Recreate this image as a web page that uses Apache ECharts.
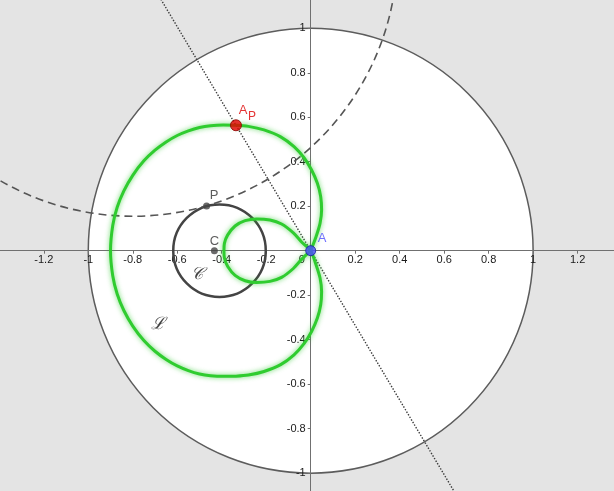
<!DOCTYPE html>
<html>
<head>
<meta charset="utf-8">
<script src="https://cdn.jsdelivr.net/npm/echarts@6/dist/echarts.min.js"></script>
<style>
  html, body { margin: 0; padding: 0; background: #e4e4e4; }
  #main { width: 614px; height: 491px; }
</style>
</head>
<body>
<div id="main"></div>
<script>
// tick labels shown on the axes
const xTicks = [-1.2, -1, -0.8, -0.6, -0.4, -0.2, 0, 0.2, 0.4, 0.6, 0.8, 1, 1.2];
const yTicks = [-1, -0.8, -0.6, -0.4, -0.2, 0.2, 0.4, 0.6, 0.8, 1];

// circles: [centerX, centerY, radius]
const unitCircle = [0, 0, 1];
const circleC = [-0.41, 0, 0.208];
const geodesic = [-0.80, 1.345, 1.19];

// points
const pointA = [0, 0];
const pointAP = [-0.336, 0.564];
const pointP = [-0.468, 0.201];
const pointC = [-0.433, 0];

// dotted line through A and A_P
const lineX = [-0.715, 0.715];
const lineY = [1.2, -1.2];

// locus L: outer loop (from A, counter-clockwise), then inner loop
const locusX = [
  0, 0.024, 0.042, 0.049, 0.045, 0.030, 0.004, -0.030, -0.075, -0.135, -0.210, -0.280, -0.336,
  -0.393, -0.45, -0.50, -0.55, -0.60, -0.65, -0.70, -0.75, -0.80, -0.84, -0.87, -0.89, -0.90,
  -0.89, -0.87, -0.84, -0.80, -0.75, -0.70, -0.65, -0.60, -0.55, -0.50, -0.45, -0.393,
  -0.336, -0.280, -0.210, -0.135, -0.075, -0.030, 0.004, 0.030, 0.045, 0.049, 0.042, 0.024, 0,
  -0.040, -0.078, -0.131, -0.183, -0.243, -0.295, -0.340, -0.373, -0.388, -0.390,
  -0.388, -0.373, -0.340, -0.295, -0.243, -0.183, -0.131, -0.078, -0.040, 0
];
const locusY = [
  0, 0.063, 0.123, 0.183, 0.243, 0.303, 0.363, 0.418, 0.468, 0.512, 0.543, 0.559, 0.564,
  0.565, 0.562, 0.554, 0.539, 0.518, 0.489, 0.452, 0.404, 0.339, 0.269, 0.195, 0.113, 0,
  -0.113, -0.195, -0.269, -0.339, -0.404, -0.452, -0.489, -0.518, -0.539, -0.554, -0.562, -0.565,
  -0.564, -0.559, -0.543, -0.512, -0.468, -0.418, -0.363, -0.303, -0.243, -0.183, -0.123, -0.063, 0,
  0.038, 0.080, 0.120, 0.138, 0.143, 0.135, 0.111, 0.071, 0.033, 0,
  -0.033, -0.071, -0.111, -0.135, -0.143, -0.138, -0.120, -0.080, -0.038, 0
];

// text annotations
const annotations = [
  { name: '𝒞', value: [-0.511, -0.109] },
  { name: 'ℒ', value: [-0.685, -0.334] }
];

const font = "'Liberation Sans', Arial, sans-serif";

function hasTick(list, v) {
  return list.some(t => Math.abs(t - v) < 1e-6);
}

function circleRender(style) {
  return function (params, api) {
    const c = api.coord([api.value(0), api.value(1)]);
    const s = api.size([api.value(2), api.value(2)]);
    return { type: 'circle', shape: { cx: c[0], cy: c[1], r: s[0] }, style: style };
  };
}

const chart = echarts.init(document.getElementById('main'));

const option = {
  backgroundColor: '#e4e4e4',
  animation: false,
  grid: {
    left: -0.7, top: -16.2, width: 622.8, height: 533.8,
    containLabel: false, outerBoundsMode: 'none'
  },
  xAxis: {
    type: 'value', min: -1.4, max: 1.4, interval: 0.2,
    position: 'bottom', offset: -266.9,
    axisLine: { onZero: false, lineStyle: { color: '#707070', width: 1 } },
    axisTick: { show: true, length: 3, lineStyle: { color: '#707070' } },
    splitLine: { show: false },
    axisLabel: {
      margin: 4, color: '#1a1a1a', fontSize: 11, fontFamily: font,
      formatter: function (v) {
        if (Math.abs(v) < 1e-9) return '{z|0}';
        return hasTick(xTicks, v) ? String(+v.toFixed(1)) : '';
      },
      rich: { z: { padding: [0, 18, 0, 0], fontSize: 11, color: '#1a1a1a', fontFamily: font } }
    }
  },
  yAxis: {
    type: 'value', min: -1.2, max: 1.2, interval: 0.2,
    position: 'left', offset: -311.4,
    axisLine: { onZero: false, lineStyle: { color: '#707070', width: 1 } },
    axisTick: { show: true, length: 3, lineStyle: { color: '#707070' } },
    splitLine: { show: false },
    axisLabel: {
      margin: 5, color: '#1a1a1a', fontSize: 11, fontFamily: font,
      formatter: function (v) {
        return hasTick(yTicks, v) ? String(+v.toFixed(1)) : '';
      }
    }
  },
  series: [
    {
      name: 'disk', type: 'custom', z: -1, silent: true,
      data: [unitCircle],
      renderItem: circleRender({ fill: '#ffffff', stroke: '#5c5c5c', lineWidth: 1.5 })
    },
    {
      name: 'C circle', type: 'custom', z: 3, silent: true,
      data: [circleC],
      renderItem: circleRender({ fill: null, stroke: '#444444', lineWidth: 2.5 })
    },
    {
      name: 'geodesic', type: 'custom', z: 3, silent: true,
      data: [geodesic],
      renderItem: circleRender({ fill: null, stroke: '#555555', lineWidth: 1.6, lineDash: [8, 5] })
    },
    {
      name: 'line', type: 'line', z: 3, silent: true,
      data: lineX.map((x, i) => [x, lineY[i]]),
      showSymbol: false,
      lineStyle: { color: '#3a3a3a', width: 1.4, type: [1.4, 1.6] }
    },
    {
      name: 'locus', type: 'line', z: 4, silent: true,
      data: locusX.map((x, i) => [x, locusY[i]]),
      showSymbol: false, smooth: 0.3,
      lineStyle: { color: '#2fcc2f', width: 3, join: 'round', shadowBlur: 5, shadowColor: 'rgba(40,200,40,0.7)' }
    },
    {
      name: 'points', type: 'scatter', z: 6, silent: true,
      data: [
        { value: pointP, symbolSize: 7, itemStyle: { color: '#444444' },
          label: { formatter: 'P', offset: [7.5, -11], color: '#333333' } },
        { value: pointC, symbolSize: 7, itemStyle: { color: '#444444' },
          label: { formatter: 'C', offset: [0, -9], color: '#333333' } },
        { value: pointAP, symbolSize: 11, itemStyle: { color: '#e60000', borderColor: '#8a0000', borderWidth: 1 },
          label: { formatter: 'A', offset: [7, -15], color: '#dd0000' } },
        { value: pointAP, symbolSize: 0,
          label: { formatter: 'P', offset: [16, -9], color: '#dd0000', fontSize: 12 } },
        { value: pointA, symbolSize: 10, itemStyle: { color: '#4c4cff', borderColor: '#1a1aa0', borderWidth: 1 },
          label: { formatter: 'A', offset: [11.5, -12.5], color: '#4c4cff' } }
      ],
      label: { show: true, position: 'inside', fontSize: 13, fontFamily: font }
    },
    {
      name: 'annotations', type: 'scatter', z: 6, silent: true,
      data: annotations, symbolSize: 0,
      label: {
        show: true, position: 'inside', formatter: '{b}', color: '#111111',
        fontSize: 17, fontStyle: 'italic', fontFamily: "'DejaVu Serif', serif"
      }
    }
  ]
};

chart.setOption(option);
</script>
</body>
</html>
